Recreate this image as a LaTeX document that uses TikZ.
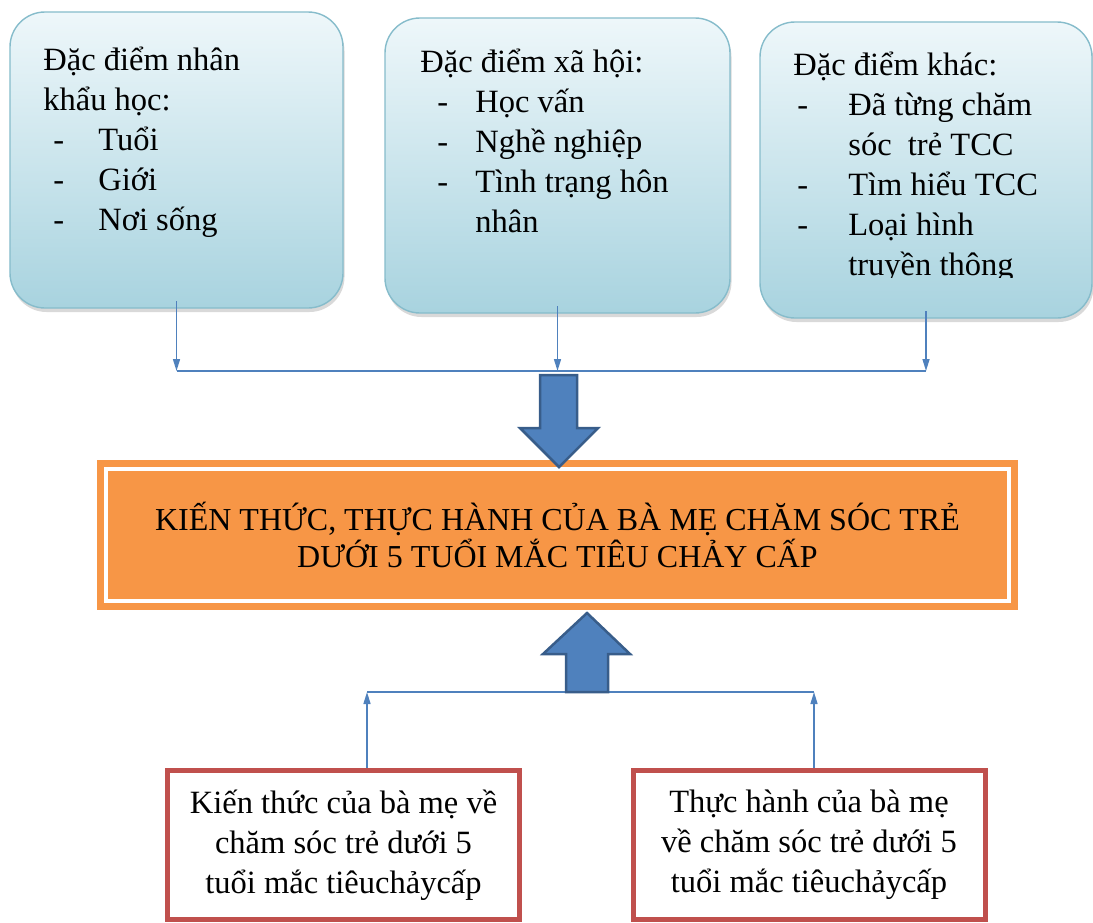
\documentclass[tikz,border=0pt]{standalone}
\usepackage{fontspec}
\setmainfont{Liberation Serif}
\usetikzlibrary{arrows.meta,calc,shadows}
\definecolor{vnBlue}{HTML}{4F81BD}
\definecolor{vnBlueDark}{HTML}{385D8A}
\definecolor{vnOrange}{HTML}{F79646}
\definecolor{vnRed}{HTML}{C0504D}
\definecolor{vnSkyTop}{HTML}{EEF7FA}
\definecolor{vnSkyBot}{HTML}{A8D3DF}
\definecolor{vnSkyLine}{HTML}{86BCCB}
\newcommand{\dashitem}[1]{\makebox[11mm][l]{\hspace{#1}-}}
\newcommand{\dashgap}{\hspace*{11mm}}
\tikzset{
    >=Triangle,
    every picture/.style={font=\fontsize{18.5}{22.8}\selectfont},
    factor/.style={draw=vnSkyLine, line width=0.8pt, rounded corners=7mm, top color=vnSkyTop, bottom color=vnSkyBot, drop shadow={shadow xshift=0.3mm, shadow yshift=-0.8mm, opacity=0.3}},
    factortext/.style={anchor=base west, inner sep=0pt},
    outcome/.style={fill=vnOrange, draw=none, align=center, inner sep=0pt, font=\fontsize{18.2}{21}\selectfont},
    source/.style={draw=vnRed, line width=1mm, fill=white, align=center, inner sep=0pt},
    link/.style={-{Triangle[length=2.4mm,width=1.4mm]}, line width=0.3mm, draw=vnBlue},
    bus/.style={line width=0.3mm, draw=vnBlue},
    bigarrow/.style={fill=vnBlue, draw=vnBlueDark, line width=0.5mm, line join=miter}
}

\begin{document}
\begin{tikzpicture}[x=0.2mm, y=-0.2mm]
\useasboundingbox (0,0) rectangle (1093,922);
% groups of factors
\node[factor, minimum width=66.6mm, minimum height=59.2mm] (demo) at (176.5,160) {};
\node[factor, minimum width=69mm, minimum height=59mm] (social) at (557.5,165.5) {};
\node[factor, minimum width=66.4mm, minimum height=59.2mm] (other) at (926,170) {};
\node[factortext] (demoText) at (43,70.5) {\begin{tabular}[t]{@{}l@{}}
Đặc điểm nhân\\ khẩu học:\\ \dashitem{2mm}Tuổi\\ \dashitem{2mm}Giới\\ \dashitem{2mm}Nơi sống
\end{tabular}};
\node[factortext] (socialText) at (420,72.5) {\begin{tabular}[t]{@{}l@{}}
Đặc điểm xã hội:\\ \dashitem{3.4mm}Học vấn\\ \dashitem{3.4mm}Nghề nghiệp\\ \dashitem{3.4mm}Tình trạng hôn\\ \dashgap nhân
\end{tabular}};
\begin{scope}
  \clip (760,0) rectangle (1093,277);
  \node[factortext] (otherText) at (793,75.5) {\begin{tabular}[t]{@{}l@{}}
  Đặc điểm khác:\\ \dashitem{0.8mm}Đã từng chăm\\ \dashgap sóc\ \ trẻ TCC\\ \dashitem{0.8mm}Tìm hiểu TCC\\ \dashitem{0.8mm}Loại hình\\ \dashgap truyền thông
  \end{tabular}};
\end{scope}

\coordinate (busTop) at (559,371);
\draw[link] ([yshift=1.5mm]demo.south) -- (demo.south |- busTop);
\draw[link] ([yshift=1.5mm]social.south) -- (social.south |- busTop);
\draw[link] ([yshift=1.5mm]other.south) -- (other.south |- busTop);
\draw[bus] (demo.south |- busTop) -- (other.south |- busTop);

% outcome
\node[outcome, minimum width=184.2mm, minimum height=30mm] (ka) at (557.5,535) {KIẾN THỨC, THỰC HÀNH CỦA BÀ MẸ CHĂM SÓC TRẺ\\DƯỚI 5 TUỔI MẮC TIÊU CHẢY CẤP};
\draw[white, line width=0.8mm] ([shift={(9,9)}]ka.north west) rectangle ([shift={(-9,-9)}]ka.south east);
\draw[bigarrow] ($(busTop)+(-19,4)$) -- ++(37,0) -- ++(0,53) -- ++(21,0) -- ++(-39,39) -- ++(-39,-39) -- ++(20,0) -- cycle;

% knowledge and practice
\node[source, minimum width=70.4mm, minimum height=29.9mm] (kt) at (343.5,845) {Kiến thức của bà mẹ về\\chăm sóc trẻ dưới 5\\tuổi mắc tiêuchảycấp};
\node[source, minimum width=70.4mm, minimum height=29.9mm] (th) at (809,845) {Thực hành của bà mẹ\\về chăm sóc trẻ dưới 5\\tuổi mắc tiêuchảycấp};
\coordinate (busBot) at (587,692);
\coordinate (ktUp) at (367,692);
\coordinate (thUp) at (814,692);
\draw[link] (kt.north -| ktUp) -- (ktUp);
\draw[link] (th.north -| thUp) -- (thUp);
\draw[bus] (ktUp) -- (thUp);
\draw[bigarrow] ($(busBot)+(-21,0)$) -- ++(42,0) -- ++(0,-38) -- ++(22,0) -- ++(-43,-41) -- ++(-44,41) -- ++(23,0) -- cycle;
\end{tikzpicture}
\end{document}
